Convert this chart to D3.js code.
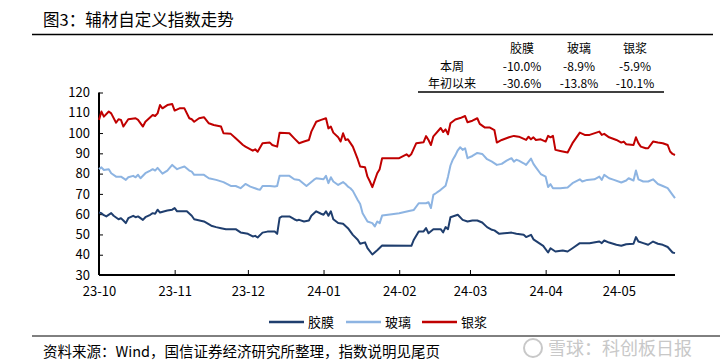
<!DOCTYPE html>
<html>
<head>
<meta charset="utf-8">
<script src="https://cdn.jsdelivr.net/npm/d3@7"></script>
<style>
  body { margin: 0; background: #fff; }
  text { font-family: "Noto Sans CJK SC", "Noto Sans", sans-serif; fill: #000; }
</style>
</head>
<body>
<script>
// chart data
var seriesNames = ['胶膜', '玻璃', '银浆'];
var seriesColors = ['#1f3e6e', '#8db4e2', '#c00000'];

var tableRows = ['本周', '年初以来'];
var tableValues = [
  ['-10.0%', '-8.9%', '-5.9%'],
  ['-30.6%', '-13.8%', '-10.1%']
];

var yTicks = [30, 40, 50, 60, 70, 80, 90, 100, 110, 120];
var xTicks = ['2023-10-01', '2023-11-01', '2023-12-01', '2024-01-01', '2024-02-01', '2024-03-01', '2024-04-01', '2024-05-01'];

var filmData = [
  ['2023-10-01', 60.8], ['2023-10-02', 60.5], ['2023-10-03', 59.5], ['2023-10-04', 58.9], ['2023-10-06', 60.5],
  ['2023-10-07', 59.2], ['2023-10-09', 57.5], ['2023-10-10', 58], ['2023-10-11', 56.9], ['2023-10-12', 55.6],
  ['2023-10-13', 58], ['2023-10-15', 59.2], ['2023-10-16', 58.5], ['2023-10-17', 58.9], ['2023-10-19', 57.2],
  ['2023-10-20', 58.5], ['2023-10-22', 59.7], ['2023-10-23', 60.5], ['2023-10-24', 60.2], ['2023-10-25', 62.2],
  ['2023-10-26', 60.8], ['2023-10-29', 61.8], ['2023-10-31', 62.2], ['2023-11-01', 63], ['2023-11-02', 61.4],
  ['2023-11-06', 61.4], ['2023-11-08', 59.2], ['2023-11-09', 57.5], ['2023-11-13', 56.4], ['2023-11-16', 54.3],
  ['2023-11-18', 53.6], ['2023-11-20', 53.1], ['2023-11-22', 52.6], ['2023-11-26', 52.6], ['2023-11-28', 51],
  ['2023-12-01', 50.3], ['2023-12-03', 49], ['2023-12-04', 49.3], ['2023-12-05', 48.5], ['2023-12-07', 50.9],
  ['2023-12-09', 51.4], ['2023-12-12', 51.4], ['2023-12-13', 50.3], ['2023-12-14', 58.2], ['2023-12-15', 58.9],
  ['2023-12-18', 58.9], ['2023-12-20', 57.5], ['2023-12-21', 56.9], ['2023-12-22', 57.2], ['2023-12-24', 56.4],
  ['2023-12-26', 56.9], ['2023-12-27', 59.2], ['2023-12-29', 61.4], ['2023-12-31', 60.2], ['2024-01-01', 59.7],
  ['2024-01-02', 61.4], ['2024-01-03', 59.2], ['2024-01-04', 61.4], ['2024-01-05', 57.5], ['2024-01-07', 55.6],
  ['2024-01-09', 55.3], ['2024-01-11', 53.1], ['2024-01-13', 49.8], ['2024-01-15', 47.4], ['2024-01-16', 45.4],
  ['2024-01-18', 46.1], ['2024-01-19', 43.3], ['2024-01-21', 40.1], ['2024-01-23', 42.2], ['2024-01-25', 44.5],
  ['2024-02-06', 44.4], ['2024-02-07', 47.4], ['2024-02-09', 51.5], ['2024-02-11', 51.5], ['2024-02-12', 53.1],
  ['2024-02-13', 50.6], ['2024-02-15', 52.6], ['2024-02-18', 52.6], ['2024-02-19', 51], ['2024-02-20', 53.6],
  ['2024-02-21', 52.6], ['2024-02-22', 58.5], ['2024-02-25', 59.7], ['2024-02-27', 57.2], ['2024-02-29', 56.4],
  ['2024-03-02', 56.9], ['2024-03-04', 56.9], ['2024-03-06', 55.9], ['2024-03-08', 53.6], ['2024-03-10', 52.3],
  ['2024-03-11', 52], ['2024-03-13', 50.3], ['2024-03-15', 50.6], ['2024-03-18', 50.9], ['2024-03-20', 50.3],
  ['2024-03-23', 49.8], ['2024-03-24', 48.7], ['2024-03-26', 49.8], ['2024-03-27', 47.6], ['2024-03-29', 46],
  ['2024-03-31', 44.4], ['2024-04-02', 41.1], ['2024-04-03', 43.2], ['2024-04-05', 41.6], ['2024-04-08', 42.1],
  ['2024-04-10', 41.6], ['2024-04-12', 43.2], ['2024-04-15', 45.7], ['2024-04-19', 45.7], ['2024-04-23', 46.5],
  ['2024-04-24', 45.7], ['2024-04-25', 47], ['2024-04-27', 46], ['2024-04-30', 44.9], ['2024-05-02', 44.4],
  ['2024-05-04', 45.2], ['2024-05-07', 45.4], ['2024-05-08', 48.7], ['2024-05-09', 46.5], ['2024-05-11', 45.7],
  ['2024-05-13', 44.9], ['2024-05-15', 46.5], ['2024-05-17', 45.4], ['2024-05-19', 44.9], ['2024-05-21', 43.8],
  ['2024-05-23', 41.1], ['2024-05-24', 40.8]
];

var glassData = [
  ['2023-10-01', 82.2], ['2023-10-02', 83.1], ['2023-10-03', 81.8], ['2023-10-05', 82.2], ['2023-10-06', 80.2],
  ['2023-10-08', 78.5], ['2023-10-10', 78.5], ['2023-10-12', 76.9], ['2023-10-13', 78.2], ['2023-10-15', 78.9],
  ['2023-10-16', 78.2], ['2023-10-17', 79.4], ['2023-10-18', 77.7], ['2023-10-20', 80.2], ['2023-10-22', 81.5],
  ['2023-10-23', 82.2], ['2023-10-24', 81.5], ['2023-10-25', 82.8], ['2023-10-27', 80], ['2023-10-29', 81.5],
  ['2023-10-31', 84.3], ['2023-11-02', 82.2], ['2023-11-03', 82.7], ['2023-11-05', 83.5], ['2023-11-07', 81.5],
  ['2023-11-08', 81], ['2023-11-09', 79.4], ['2023-11-13', 79.4], ['2023-11-15', 77.7], ['2023-11-18', 76.9],
  ['2023-11-21', 75.8], ['2023-11-24', 73.9], ['2023-11-26', 73.9], ['2023-11-28', 72.8], ['2023-11-30', 74.9],
  ['2023-12-02', 73.6], ['2023-12-05', 72.3], ['2023-12-06', 72], ['2023-12-07', 73.9], ['2023-12-10', 73.9],
  ['2023-12-12', 73.6], ['2023-12-13', 73.9], ['2023-12-14', 78.9], ['2023-12-18', 78.9], ['2023-12-20', 77.2],
  ['2023-12-22', 76.9], ['2023-12-25', 73.9], ['2023-12-28', 76.9], ['2023-12-29', 77.7], ['2024-01-01', 77.2],
  ['2024-01-02', 78.9], ['2024-01-03', 75.3], ['2024-01-04', 78.2], ['2024-01-05', 76.1], ['2024-01-07', 74.4],
  ['2024-01-09', 75.8], ['2024-01-10', 74.9], ['2024-01-11', 73.6], ['2024-01-12', 72.8], ['2024-01-13', 71.5],
  ['2024-01-15', 67], ['2024-01-16', 65], ['2024-01-17', 60.5], ['2024-01-19', 56.4], ['2024-01-21', 55.6],
  ['2024-01-22', 53.9], ['2024-01-23', 56.4], ['2024-01-24', 55.6], ['2024-01-25', 59.3], ['2024-01-29', 60],
  ['2024-02-01', 60.5], ['2024-02-05', 61.6], ['2024-02-07', 62.1], ['2024-02-09', 65.4], ['2024-02-12', 65.4],
  ['2024-02-13', 65.9], ['2024-02-14', 63], ['2024-02-15', 69.5], ['2024-02-16', 70.3], ['2024-02-18', 72],
  ['2024-02-19', 73], ['2024-02-20', 74], ['2024-02-21', 78.5], ['2024-02-22', 84], ['2024-02-23', 87],
  ['2024-02-24', 89], ['2024-02-25', 91.5], ['2024-02-26', 93], ['2024-02-27', 91.7], ['2024-02-28', 92.5],
  ['2024-02-29', 87.6], ['2024-03-02', 88.7], ['2024-03-04', 90.2], ['2024-03-06', 89.7], ['2024-03-08', 87.1],
  ['2024-03-10', 85.9], ['2024-03-12', 84.3], ['2024-03-14', 84.8], ['2024-03-16', 86.4], ['2024-03-18', 87.6],
  ['2024-03-19', 85.9], ['2024-03-20', 86.8], ['2024-03-21', 86.4], ['2024-03-23', 85.1], ['2024-03-24', 84.3],
  ['2024-03-26', 87.4], ['2024-03-27', 84.8], ['2024-03-28', 83.1], ['2024-03-30', 79.8], ['2024-04-01', 78.5],
  ['2024-04-02', 73.4], ['2024-04-03', 74.8], ['2024-04-04', 72.8], ['2024-04-07', 72.8], ['2024-04-10', 73.2],
  ['2024-04-12', 75.3], ['2024-04-15', 77.2], ['2024-04-16', 76.1], ['2024-04-18', 76.9], ['2024-04-21', 77.2],
  ['2024-04-23', 78.5], ['2024-04-24', 76.9], ['2024-04-25', 79.4], ['2024-04-27', 77.7], ['2024-04-29', 76.9],
  ['2024-05-02', 75.6], ['2024-05-04', 76.6], ['2024-05-05', 77.7], ['2024-05-07', 76.6], ['2024-05-08', 81.5],
  ['2024-05-09', 77.2], ['2024-05-11', 76.1], ['2024-05-13', 76.1], ['2024-05-15', 77.2], ['2024-05-17', 74.9],
  ['2024-05-19', 73.9], ['2024-05-21', 72.8], ['2024-05-23', 69.5], ['2024-05-24', 67.9]
];

var silverData = [
  ['2023-10-01', 106.5], ['2023-10-02', 110.6], ['2023-10-03', 108.1], ['2023-10-05', 110.6], ['2023-10-06', 109.7],
  ['2023-10-08', 105.1], ['2023-10-09', 106.8], ['2023-10-10', 106.5], ['2023-10-11', 103.2], ['2023-10-13', 106.8],
  ['2023-10-16', 107.3], ['2023-10-17', 106.5], ['2023-10-19', 103.2], ['2023-10-20', 105.6], ['2023-10-23', 108.9],
  ['2023-10-24', 108.4], ['2023-10-25', 109.7], ['2023-10-26', 113.8], ['2023-10-27', 112.2], ['2023-10-29', 113.8],
  ['2023-10-31', 114.3], ['2023-11-01', 111.1], ['2023-11-03', 112.2], ['2023-11-05', 112.2], ['2023-11-07', 107.3],
  ['2023-11-08', 106.8], ['2023-11-09', 105.6], ['2023-11-11', 107.3], ['2023-11-13', 107.8], ['2023-11-15', 104.8],
  ['2023-11-17', 104], ['2023-11-20', 103.2], ['2023-11-21', 99.9], ['2023-11-24', 99.6], ['2023-11-26', 97.4],
  ['2023-11-29', 94.1], ['2023-11-30', 93.3], ['2023-12-03', 91.3], ['2023-12-04', 92], ['2023-12-05', 90.8],
  ['2023-12-07', 95], ['2023-12-10', 95.3], ['2023-12-11', 94.1], ['2023-12-13', 93.3], ['2023-12-14', 100.2],
  ['2023-12-18', 99.9], ['2023-12-20', 97.4], ['2023-12-22', 95], ['2023-12-24', 95.8], ['2023-12-26', 96.6],
  ['2023-12-27', 100.7], ['2023-12-29', 105.6], ['2023-12-31', 106.5], ['2024-01-02', 107.3], ['2024-01-03', 102.3],
  ['2024-01-04', 103.2], ['2024-01-05', 100.2], ['2024-01-07', 97.9], ['2024-01-08', 95.8], ['2024-01-09', 99.9],
  ['2024-01-10', 96.6], ['2024-01-11', 96.9], ['2024-01-13', 93.3], ['2024-01-15', 87.1], ['2024-01-16', 83.5],
  ['2024-01-18', 83.1], ['2024-01-19', 78.5], ['2024-01-20', 76.1], ['2024-01-21', 73.3], ['2024-01-23', 80.2],
  ['2024-01-24', 82.2], ['2024-01-25', 87.6], ['2024-02-01', 87.6], ['2024-02-04', 89.5], ['2024-02-05', 88.5],
  ['2024-02-06', 89.7], ['2024-02-08', 95], ['2024-02-11', 95.5], ['2024-02-12', 98.5], ['2024-02-13', 96.6],
  ['2024-02-14', 94.1], ['2024-02-15', 98.4], ['2024-02-18', 102.5], ['2024-02-19', 100.5], ['2024-02-20', 101.8],
  ['2024-02-21', 99.4], ['2024-02-22', 104.8], ['2024-02-24', 106.7], ['2024-02-26', 107.4], ['2024-02-28', 108.4],
  ['2024-02-29', 105.3], ['2024-03-02', 106.1], ['2024-03-04', 107.3], ['2024-03-05', 104.5], ['2024-03-07', 102.8],
  ['2024-03-09', 102.8], ['2024-03-11', 101.5], ['2024-03-12', 95.3], ['2024-03-14', 96.6], ['2024-03-17', 97.9],
  ['2024-03-19', 98.6], ['2024-03-21', 98.2], ['2024-03-24', 96.6], ['2024-03-25', 98.2], ['2024-03-26', 96.9],
  ['2024-03-27', 97.9], ['2024-03-28', 96.6], ['2024-03-30', 96.9], ['2024-04-01', 95.8], ['2024-04-02', 98.6],
  ['2024-04-03', 97.9], ['2024-04-04', 98.6], ['2024-04-05', 91.7], ['2024-04-07', 91.2], ['2024-04-10', 90.4],
  ['2024-04-12', 95], ['2024-04-15', 100.2], ['2024-04-17', 99.1], ['2024-04-19', 99.1], ['2024-04-23', 100.7],
  ['2024-04-24', 99.1], ['2024-04-25', 99.6], ['2024-04-27', 97.9], ['2024-04-30', 96.6], ['2024-05-02', 95.3],
  ['2024-05-03', 95.8], ['2024-05-04', 94.5], ['2024-05-07', 94.1], ['2024-05-08', 97.9], ['2024-05-09', 95],
  ['2024-05-10', 93.3], ['2024-05-12', 92.5], ['2024-05-13', 92.5], ['2024-05-15', 95.8], ['2024-05-17', 95.3],
  ['2024-05-19', 95], ['2024-05-21', 94.1], ['2024-05-22', 90.9], ['2024-05-23', 89.7], ['2024-05-24', 89.2]
];

var allSeries = [filmData, glassData, silverData];

// svg board
var dimensions = { width: 727, height: 361 };
var plot = { left: 99, right: 675, top: 92.5, bottom: 275 };

var svg = d3.select('body')
  .append('svg')
  .attr('width', dimensions.width)
  .attr('height', dimensions.height);

var parseDate = d3.timeParse('%Y-%m-%d');

var x = d3.scaleTime()
  .domain([parseDate('2023-10-01'), parseDate('2024-05-24')])
  .range([plot.left, plot.right]);

var y = d3.scaleLinear()
  .domain([30, 120])
  .range([plot.bottom, plot.top]);

// title + rule under it
svg.append('text')
  .attr('x', 43).attr('y', 26)
  .style('font-size', '16.5px')
  .text('图3：辅材自定义指数走势');

svg.append('line')
  .attr('x1', 32).attr('x2', 713).attr('y1', 34.5).attr('y2', 34.5)
  .attr('stroke', '#000').attr('stroke-width', 1.5);

// small table top right
var colX = [522, 579, 635];
var labelX = 452;
var tableFont = '12px';

svg.selectAll('.head')
  .data(seriesNames)
  .enter()
  .append('text')
  .attr('x', function(d, i) { return colX[i]; })
  .attr('y', 53)
  .attr('text-anchor', 'middle')
  .style('font-size', tableFont)
  .text(function(d) { return d; });

tableRows.forEach(function(row, r) {
  var rowY = 70.5 + r * 17;
  svg.append('text')
    .attr('x', labelX).attr('y', rowY)
    .attr('text-anchor', 'middle')
    .style('font-size', tableFont)
    .text(row);
  svg.selectAll('.row' + r)
    .data(tableValues[r])
    .enter()
    .append('text')
    .attr('x', function(d, i) { return colX[i]; })
    .attr('y', rowY)
    .attr('text-anchor', 'middle')
    .style('font-size', tableFont)
    .text(function(d) { return d; });
});

svg.append('line')
  .attr('x1', 418).attr('x2', 664).attr('y1', 92).attr('y2', 92)
  .attr('stroke', '#000').attr('stroke-width', 1.5);

// axes
var yAxis = d3.axisLeft(y)
  .tickValues(yTicks)
  .tickSize(-4)
  .tickPadding(9);

var gy = svg.append('g')
  .attr('transform', 'translate(' + plot.left + ',0)')
  .call(yAxis);

var xAxis = d3.axisBottom(x)
  .tickValues(xTicks.map(parseDate))
  .tickFormat(d3.timeFormat('%y-%m'))
  .tickSize(-5)
  .tickPadding(12);

var gx = svg.append('g')
  .attr('transform', 'translate(0,' + plot.bottom + ')')
  .call(xAxis);

[gx, gy].forEach(function(g) {
  g.select('.domain').attr('stroke', '#000').attr('stroke-width', 2);
  g.selectAll('.tick line').attr('stroke', '#000').attr('stroke-width', 1);
  g.selectAll('.tick text')
    .style('font-family', '"Noto Sans CJK SC", "Noto Sans", sans-serif')
    .style('font-size', '13px')
    .attr('fill', '#000');
});
gy.select('.domain').attr('d', 'M0,' + plot.top + 'V' + plot.bottom);
gx.select('.domain').attr('d', 'M' + plot.left + ',0H' + plot.right);

// lines
var line = d3.line()
  .x(function(d) { return x(parseDate(d[0])); })
  .y(function(d) { return y(d[1]); });

svg.selectAll('.series')
  .data(allSeries)
  .enter()
  .append('path')
  .attr('class', 'series')
  .attr('d', line)
  .attr('fill', 'none')
  .attr('stroke', function(d, i) { return seriesColors[i]; })
  .attr('stroke-width', 2)
  .attr('stroke-linejoin', 'round');

// legend
var legendX = [269, 346, 422];
var legendY = 322;

seriesNames.forEach(function(name, i) {
  svg.append('line')
    .attr('x1', legendX[i]).attr('x2', legendX[i] + 35)
    .attr('y1', legendY).attr('y2', legendY)
    .attr('stroke', seriesColors[i]).attr('stroke-width', 2.5);
  svg.append('text')
    .attr('x', legendX[i] + 39).attr('y', legendY + 4.5)
    .style('font-size', '13px')
    .text(name);
});

// footer
svg.append('line')
  .attr('x1', 32).attr('x2', 720).attr('y1', 336).attr('y2', 336)
  .attr('stroke', '#000').attr('stroke-width', 1);

svg.append('text')
  .attr('x', 43).attr('y', 357)
  .style('font-size', '14.5px')
  .text('资料来源：Wind，国信证券经济研究所整理，指数说明见尾页');

// watermark
svg.append('circle')
  .attr('cx', 533).attr('cy', 348).attr('r', 9)
  .attr('fill', 'none').attr('stroke', '#c8c8c8').attr('stroke-width', 2);

svg.append('text')
  .attr('x', 548).attr('y', 355)
  .style('font-size', '18px')
  .style('fill', '#c8c8c8')
  .text('雪球：科创板日报');
</script>
</body>
</html>
